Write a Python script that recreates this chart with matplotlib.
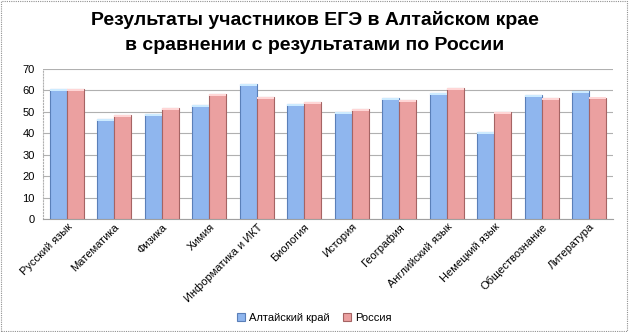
import matplotlib.pyplot as plt
import numpy as np
from matplotlib.patches import Rectangle

subjects = ['Русский язык', 'Математика', 'Физика', 'Химия', 'Информатика и ИКТ',
            'Биология', 'История', 'География', 'Английский язык', 'Немецкий язык',
            'Обществознание', 'Литература']
altai = [60.8, 46.5, 48.8, 53.3, 62.8, 53.8, 49.8, 56.5, 58.8, 40.6, 58.0, 59.6]
russia = [60.8, 48.5, 51.8, 58.3, 57.0, 54.4, 51.5, 55.6, 61.1, 49.9, 56.6, 56.7]
series = ['Алтайский край', 'Россия']

plt.rcParams['font.family'] = ['Liberation Sans', 'DejaVu Sans']

fig = plt.figure(figsize=(6.29, 3.32), dpi=100)
ax = fig.add_axes([43/629, 1 - 219/332, 570/629, 150/332])

x = np.arange(len(subjects))
w = 0.36
b1 = ax.bar(x - w/2, altai, w, color='#8FB6EE', edgecolor='#5A7FB8', linewidth=0.8,
            label=series[0], zorder=3)
b2 = ax.bar(x + w/2, russia, w, color='#EBA0A0', edgecolor='#A56464', linewidth=0.8,
            label=series[1], zorder=3)

# светлые верхушки столбиков
for bars, cap in ((b1, '#CDEBFF'), (b2, '#FFD6D6')):
    for r in bars:
        ax.add_patch(Rectangle((r.get_x(), r.get_height() - 0.9), r.get_width(), 0.9,
                               facecolor=cap, edgecolor='none', zorder=4))

ax.set_ylim(0, 70)
ax.set_xlim(-0.5, len(subjects) - 0.5)
ax.set_yticks(range(0, 71, 10))
ax.tick_params(axis='y', labelsize=8, length=0, pad=6)
ax.tick_params(axis='x', length=0, pad=2)
ax.set_xticks(x)
ax.set_xticklabels(subjects, rotation=45, ha='right', rotation_mode='anchor', fontsize=8)
ax.yaxis.grid(True, color='#B0B0B0', linewidth=0.8, zorder=0)
for s in ['top', 'right']:
    ax.spines[s].set_visible(False)
ax.spines['left'].set_color('#B0B0B0')
ax.spines['left'].set_linestyle(':')
ax.spines['bottom'].set_color('#A0A0A0')

fig.text(0.5, 1 - 20/332, 'Результаты участников ЕГЭ в Алтайском крае',
         ha='center', va='center', fontsize=14, fontweight='bold')
fig.text(0.5, 1 - 46/332, 'в сравнении с результатами по России',
         ha='center', va='center', fontsize=14, fontweight='bold')

fig.legend(handles=[b1, b2], loc='center', bbox_to_anchor=(0.5, 1 - 318/332),
           ncol=2, frameon=False, fontsize=8, handlelength=0.7, handleheight=0.7,
           columnspacing=1.2, handletextpad=0.4)

# пунктирная рамка вокруг диаграммы
fig.patches.append(Rectangle((0.002, 0.003), 0.995, 0.994, transform=fig.transFigure,
                             fill=False, edgecolor='#909090', linestyle=(0, (1, 1)),
                             linewidth=0.8))

fig.savefig('out.png', dpi=100)
